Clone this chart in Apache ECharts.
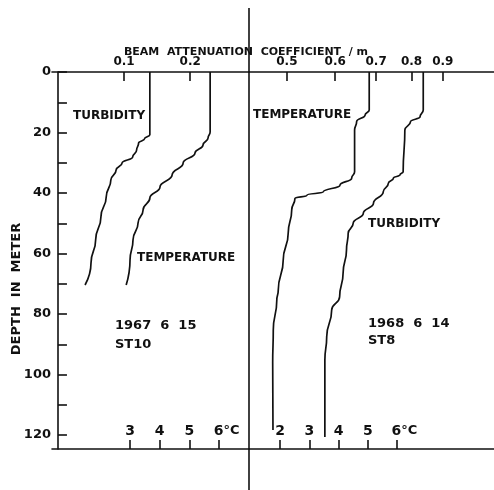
<!DOCTYPE html>
<html>
<head>
<meta charset="utf-8">
<script src="https://cdn.jsdelivr.net/npm/echarts@6/dist/echarts.min.js"></script>
<style>
  html, body { margin: 0; padding: 0; background: #fff; }
  #container { width: 494px; height: 490px; }
</style>
</head>
<body>
<div id="container"></div>
<script>
// depth ticks (m)
var depthLabels = [0, 20, 40, 60, 80, 100, 120];
// top axis (beam attenuation coefficient /m)
var coefTicksSt10 = [0.1, 0.2];
var coefTicksSt8 = [0.5, 0.6, 0.7, 0.8, 0.9];
// bottom axis (temperature, deg C)
var tempTicksSt10 = [3, 4, 5, 6];
var tempTicksSt8 = [2, 3, 4, 5, 6];

// 1967 6 15  ST10
var st10TurbDepth = [0, 20.7, 22.1, 23.5, 25.8, 28.1, 30.1, 32.4, 35.7, 41.3, 47.9, 55.5, 63.1, 70.4];
var st10TurbCoef  = [0.139, 0.139, 0.131, 0.122, 0.119, 0.113, 0.097, 0.088, 0.080, 0.073, 0.065, 0.057, 0.050, 0.041];
var st10TempDepth = [0, 19.8, 21.8, 24.1, 26.8, 30.1, 34.0, 38.0, 41.6, 45.6, 49.9, 55.5, 62.1, 70.4];
var st10Temp      = [5.70, 5.70, 5.63, 5.46, 5.19, 4.79, 4.42, 4.01, 3.67, 3.44, 3.27, 3.10, 3.00, 2.87];

// 1968 6 14  ST8
var st8TempDepth = [0, 12.6, 14.2, 16.4, 19.2, 33.0, 35.1, 37.4, 39.6, 40.7, 41.8, 45.6, 53.3, 62.1, 72.1, 75.4, 85.3, 96.2, 118.3];
var st8Temp      = [5.05, 5.05, 4.91, 4.62, 4.55, 4.55, 4.45, 4.05, 3.48, 2.92, 2.51, 2.40, 2.28, 2.11, 1.94, 1.89, 1.77, 1.75, 1.76];
var st8TurbDepth = [0, 12.6, 14.8, 16.4, 19.2, 33.0, 34.0, 35.1, 36.8, 39.6, 43.4, 46.7, 50.0, 53.3, 58.8, 66.5, 74.3, 78.7, 87.5, 95.2, 120.6];
var st8TurbCoef  = [0.836, 0.836, 0.826, 0.797, 0.780, 0.775, 0.766, 0.747, 0.733, 0.719, 0.693, 0.667, 0.642, 0.630, 0.626, 0.618, 0.610, 0.592, 0.581, 0.577, 0.577];

function pairs(xs, ys) {
    var out = [];
    for (var i = 0; i < xs.length; i++) {
        out.push([xs[i], ys[i]]);
    }
    return out;
}

var FONT = 'DejaVu Sans';
var INK = '#111';

var dom = document.getElementById('container');
var myChart = echarts.init(dom, null, { renderer: 'canvas' });

var lineAxis = { show: true, lineStyle: { color: INK, width: 1.6 } };

function topAxis(grid, type, min, max, ticks) {
    return {
        type: type,
        gridIndex: grid,
        position: 'top',
        min: min,
        max: max,
        axisLine: lineAxis,
        axisTick: { show: true, inside: true, length: 9, lineStyle: { color: INK, width: 1.6 }, customValues: ticks },
        axisLabel: {
            customValues: ticks,
            margin: 4,
            color: INK,
            fontFamily: FONT,
            fontSize: 12,
            fontWeight: 'bold'
        },
        splitLine: { show: false },
        minorTick: { show: false }
    };
}

function bottomAxis(grid, min, max, ticks) {
    return {
        type: 'value',
        gridIndex: grid,
        position: 'bottom',
        min: min,
        max: max,
        axisLine: lineAxis,
        axisTick: { show: true, inside: true, length: 9, lineStyle: { color: INK, width: 1.6 }, customValues: ticks },
        axisLabel: {
            customValues: ticks,
            inside: true,
            margin: 11,
            color: INK,
            fontFamily: FONT,
            fontSize: 14,
            fontWeight: 'bold',
            formatter: function (v) {
                // keep the digit centred on its tick, the unit trails to the right
                return v === 6 ? '{p|6}{u|°C}' : '{n|' + v + '}';
            },
            rich: {
                n: { fontFamily: FONT, fontSize: 14, fontWeight: 'bold', color: INK },
                p: { fontFamily: FONT, fontSize: 14, fontWeight: 'bold', color: INK, padding: [0, 0, 0, 15] },
                u: { fontFamily: FONT, fontSize: 13, fontWeight: 'bold', color: INK }
            }
        },
        splitLine: { show: false }
    };
}

function depthAxis(grid, showIt) {
    return {
        type: 'value',
        gridIndex: grid,
        inverse: true,
        min: 0,
        max: 124.6,
        interval: 10,
        axisLine: { show: showIt, lineStyle: { color: INK, width: 1.6 } },
        axisTick: { show: showIt, inside: true, length: 9, lineStyle: { color: INK, width: 1.6 } },
        axisLabel: {
            show: showIt,
            showMaxLabel: false,
            margin: 1,
            color: INK,
            fontFamily: FONT,
            fontSize: 13,
            fontWeight: 'bold',
            formatter: function (v) {
                return depthLabels.indexOf(v) >= 0 ? String(v) : '';
            }
        },
        splitLine: { show: false }
    };
}

var curveStyle = { color: INK, width: 1.7 };

function curve(name, xIdx, yIdx, data) {
    return {
        name: name,
        type: 'line',
        xAxisIndex: xIdx,
        yAxisIndex: yIdx,
        data: data,
        showSymbol: false,
        smooth: 0.5,
        smoothMonotone: 'y',
        lineStyle: curveStyle,
        silent: true
    };
}

function label(text, x, y, size) {
    return {
        type: 'text',
        x: x,
        y: y,
        style: {
            text: text,
            fill: INK,
            font: 'bold ' + size + 'px "' + FONT + '"',
            textVerticalAlign: 'middle'
        }
    };
}

var option = {
    animation: false,
    backgroundColor: '#fff',
    grid: [
        { left: 52, top: 72, width: 197, bottom: 41 },
        { left: 249, top: 72, right: 0, bottom: 41 }
    ],
    xAxis: [
        topAxis(0, 'value', -0.009, 0.289, coefTicksSt10),
        bottomAxis(0, 0.37, 7.01, tempTicksSt10),
        topAxis(1, 'log', 0.4335, 1.0915, coefTicksSt8),
        bottomAxis(1, 0.94, 9.316, tempTicksSt8)
    ],
    yAxis: [
        depthAxis(0, true),
        depthAxis(1, false)
    ],
    series: [
        curve('turbidity ST10', 0, 0, pairs(st10TurbCoef, st10TurbDepth)),
        curve('temperature ST10', 1, 0, pairs(st10Temp, st10TempDepth)),
        curve('turbidity ST8', 2, 1, pairs(st8TurbCoef, st8TurbDepth)),
        curve('temperature ST8', 3, 1, pairs(st8Temp, st8TempDepth))
    ],
    graphic: [
        { type: 'line', shape: { x1: 249, y1: 8, x2: 249, y2: 490 }, style: { stroke: INK, lineWidth: 1.6 } },
        { type: 'text', x: 246, y: 52,
          style: { text: 'BEAM  ATTENUATION  COEFFICIENT  / m', fill: INK, font: 'bold 11px "' + FONT + '"', textAlign: 'center', textVerticalAlign: 'middle' } },
        label('TURBIDITY', 73, 116, 12),
        label('TEMPERATURE', 137, 258, 12),
        label('TEMPERATURE', 253, 115, 12),
        label('TURBIDITY', 368, 224, 12),
        label('1967  6  15', 115, 326, 13),
        label('ST10', 115, 345, 13),
        label('1968  6  14', 368, 324, 13),
        label('ST8', 368, 341, 13),
        { type: 'text', x: 17, y: 289, rotation: Math.PI / 2,
          style: { text: 'DEPTH  IN  METER', fill: INK, font: 'bold 13px "' + FONT + '"', textAlign: 'center', textVerticalAlign: 'middle' } }
    ]
};

if (option && typeof option === 'object') {
    myChart.setOption(option, true);
}
</script>
</body>
</html>
